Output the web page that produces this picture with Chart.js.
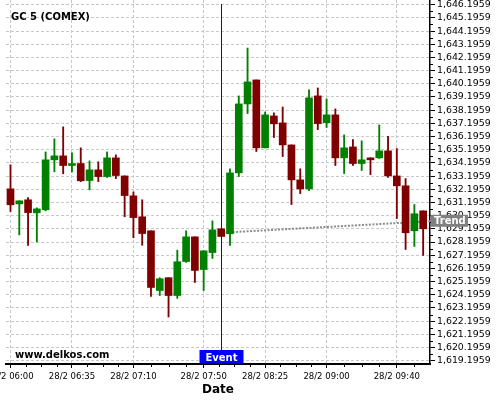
<!DOCTYPE html>
<html>
<head>
<meta charset="utf-8">
<script src="https://cdn.jsdelivr.net/npm/chart.js@4.4.0/dist/chart.umd.min.js"></script>
<style>
  html, body { margin: 0; padding: 0; background: #fff; }
  canvas { display: block; }
</style>
</head>
<body>
<canvas id="chart" width="500" height="400"></canvas>
<script>
// GC 5 (COMEX) - velas de 5 minutos, 28/2 06:00 -> 09:55

const openP  = [1632.23, 1631.09, 1631.40, 1630.41, 1630.64, 1634.43, 1634.73, 1634.00, 1634.15, 1632.86,
                1633.67, 1633.16, 1634.58, 1633.21, 1631.70, 1630.11, 1629.05, 1624.52, 1625.49, 1624.14,
                1626.72, 1628.59, 1626.11, 1627.40, 1629.20, 1628.82, 1633.44, 1638.67, 1640.49, 1635.34,
                1637.76, 1637.23, 1635.56, 1632.91, 1632.23, 1639.28, 1637.25, 1637.84, 1634.58, 1635.41,
                1634.15, 1634.58, 1634.58, 1635.11, 1633.21, 1632.46, 1629.05, 1630.56];
const highP  = [1634.05, 1631.32, 1631.57, 1630.79, 1635.03, 1636.02, 1636.93, 1634.96, 1635.34, 1634.35,
                1634.28, 1635.03, 1634.81, 1633.21, 1632.00, 1631.40, 1629.05, 1625.49, 1625.49, 1627.58,
                1629.05, 1628.59, 1627.53, 1629.80, 1629.20, 1633.75, 1639.28, 1642.91, 1640.49, 1638.06,
                1637.99, 1638.44, 1635.56, 1633.75, 1639.73, 1639.88, 1639.05, 1638.29, 1636.32, 1635.97,
                1635.87, 1634.58, 1637.08, 1636.22, 1635.28, 1633.01, 1631.04, 1630.56];
const lowP   = [1630.51, 1628.74, 1627.93, 1628.21, 1630.56, 1633.52, 1633.37, 1633.52, 1632.78, 1632.15,
                1632.78, 1633.09, 1633.01, 1630.11, 1628.52, 1627.95, 1624.07, 1624.14, 1622.51, 1623.92,
                1626.65, 1625.13, 1624.52, 1626.95, 1628.62, 1627.93, 1633.16, 1637.94, 1635.06, 1635.34,
                1636.12, 1634.68, 1631.04, 1631.87, 1632.10, 1636.72, 1636.88, 1634.00, 1633.39, 1634.00,
                1633.62, 1633.31, 1634.53, 1633.09, 1629.98, 1627.63, 1627.86, 1627.18];
const closeP = [1631.02, 1631.32, 1630.43, 1630.71, 1634.43, 1634.73, 1634.00, 1634.15, 1632.84, 1633.67,
                1633.16, 1634.58, 1633.24, 1631.72, 1630.05, 1628.84, 1624.75, 1625.41, 1624.14, 1626.70,
                1628.59, 1626.04, 1627.53, 1629.12, 1628.62, 1633.44, 1638.67, 1640.34, 1635.34, 1637.84,
                1637.16, 1635.56, 1632.91, 1632.23, 1639.13, 1637.18, 1637.84, 1634.58, 1635.34, 1634.15,
                1634.43, 1634.43, 1635.11, 1633.21, 1632.46, 1628.90, 1630.34, 1629.20];

// ejes
const xTickIndex  = [0, 7, 14, 22, 29, 36, 44];
const xTickLabels = ['28/2 06:00', '28/2 06:35', '28/2 07:10', '28/2 07:50', '28/2 08:25', '28/2 09:00', '28/2 09:40'];
const yTickFirst = 1619.1959;
const yTickLast  = 1646.1959;

// evento y tendencia
const eventIndex = 24;
const trendX = [24.5, 47.78];
const trendY = [1628.92, 1629.77];

const UP = '#008000';
const DOWN = '#800000';

const yTicks = [];
for (let v = yTickFirst; v <= yTickLast + 1e-6; v += 1) yTicks.push(+v.toFixed(4));

function fmt(v) {
  const [a, b] = v.toFixed(4).split('.');
  return a.replace(/\B(?=(\d{3})+$)/g, ',') + '.' + b;
}

const candleColors = openP.map((o, i) => closeP[i] >= o ? UP : DOWN);

const overlays = {
  id: 'overlays',
  afterDraw(chart) {
    const { ctx, chartArea: a, scales: { x, y } } = chart;
    ctx.save();

    // marcas menores
    ctx.strokeStyle = '#000';
    ctx.lineWidth = 1;
    ctx.beginPath();
    for (let k = 0; k < xTickIndex.length; k++) {
      const from = xTickIndex[k];
      const to = k + 1 < xTickIndex.length ? xTickIndex[k + 1] : from + (from - xTickIndex[k - 1]);
      const step = (to - from) / 4;
      for (let j = 1; j < 4; j++) {
        const v = from + j * step;
        if (v > x.max) break;
        const px = Math.round(x.getPixelForValue(v)) + 0.5;
        ctx.moveTo(px, a.bottom);
        ctx.lineTo(px, a.bottom + 3);
      }
    }
    yTicks.forEach(v => {
      const m = v + 0.5;
      if (m > y.max) return;
      const py = Math.round(y.getPixelForValue(m)) + 0.5;
      ctx.moveTo(a.right, py);
      ctx.lineTo(a.right + 3, py);
    });
    ctx.stroke();

    // linea del evento
    const ex = Math.round(x.getPixelForValue(eventIndex)) + 0.5;
    ctx.strokeStyle = '#0000ff';
    ctx.beginPath();
    ctx.moveTo(ex, 4);
    ctx.lineTo(ex, a.bottom - 14);
    ctx.stroke();

    ctx.font = 'bold 10px "DejaVu Sans"';
    ctx.textBaseline = 'alphabetic';

    // caja Event
    ctx.fillStyle = '#0000ff';
    ctx.fillRect(ex - 22, a.bottom - 14, 44, 13.5);
    ctx.fillStyle = '#fff';
    ctx.textAlign = 'center';
    ctx.fillText('Event', ex, a.bottom - 3.5);

    // caja Trend
    const ty = y.getPixelForValue(trendY[1]);
    ctx.fillStyle = '#808080';
    ctx.fillRect(a.right + 1, ty - 6.5, 37, 12);
    ctx.fillStyle = '#fff';
    ctx.textAlign = 'left';
    ctx.fillText('Trend', a.right + 4, ty + 3);

    // textos
    ctx.fillStyle = '#000';
    ctx.fillText('GC 5 (COMEX)', a.left + 5, 19.5);
    ctx.fillText('www.delkos.com', a.left + 9, a.bottom - 6.5);

    ctx.restore();
  }
};

new Chart(document.getElementById('chart'), {
  type: 'bar',
  data: {
    datasets: [
      {
        type: 'line',
        data: trendX.map((v, i) => ({ x: v, y: trendY[i] })),
        borderColor: '#8c8c8c',
        borderWidth: 2,
        borderDash: [2, 1.5],
        pointRadius: 0,
        order: 3
      },
      {
        data: lowP.map((l, i) => ({ x: i, y: [l, highP[i]] })),
        backgroundColor: candleColors,
        barThickness: 1.2,
        grouped: false,
        order: 2
      },
      {
        data: openP.map((o, i) => ({ x: i, y: [o, closeP[i]] })),
        backgroundColor: candleColors,
        barThickness: 7,
        grouped: false,
        order: 1
      }
    ]
  },
  options: {
    responsive: false,
    animation: false,
    devicePixelRatio: 1,
    layout: { padding: { left: 6, top: 0, right: 0, bottom: 0 } },
    plugins: {
      legend: { display: false },
      tooltip: { enabled: false }
    },
    scales: {
      x: {
        type: 'linear',
        min: -0.513,
        max: 47.78,
        offset: false,
        grid: {
          offset: false,
          color: '#c8c8c8',
          tickColor: '#000',
          tickLength: 4
        },
        border: { color: '#000', width: 2, dash: [3, 2] },
        ticks: {
          color: '#000',
          font: { family: 'DejaVu Sans', size: 8.5 },
          padding: 4,
          maxRotation: 0,
          autoSkip: false,
          callback: (v, i) => xTickLabels[i]
        },
        afterBuildTicks: s => { s.ticks = xTickIndex.map(v => ({ value: v })); },
        afterFit: s => { s.height = 36; s.paddingLeft = 0; s.paddingRight = 0; },
        title: {
          display: true,
          text: 'Date',
          color: '#000',
          font: { family: 'DejaVu Sans', size: 12, weight: 'bold' },
          padding: { top: 0, bottom: 3 }
        }
      },
      y: {
        position: 'right',
        min: 1618.946,
        max: 1646.552,
        beginAtZero: false,
        grid: {
          color: '#c8c8c8',
          tickColor: '#000',
          tickLength: 5
        },
        border: { color: '#000', width: 1.5, dash: [3, 2] },
        ticks: {
          color: '#000',
          font: { family: 'DejaVu Sans', size: 9.4 },
          padding: 2,
          autoSkip: false,
          callback: v => fmt(v)
        },
        afterBuildTicks: s => { s.ticks = yTicks.map(v => ({ value: v })); },
        afterFit: s => { s.width = 70; s.paddingTop = 0; s.paddingBottom = 0; }
      }
    }
  },
  plugins: [overlays]
});
</script>
</body>
</html>
